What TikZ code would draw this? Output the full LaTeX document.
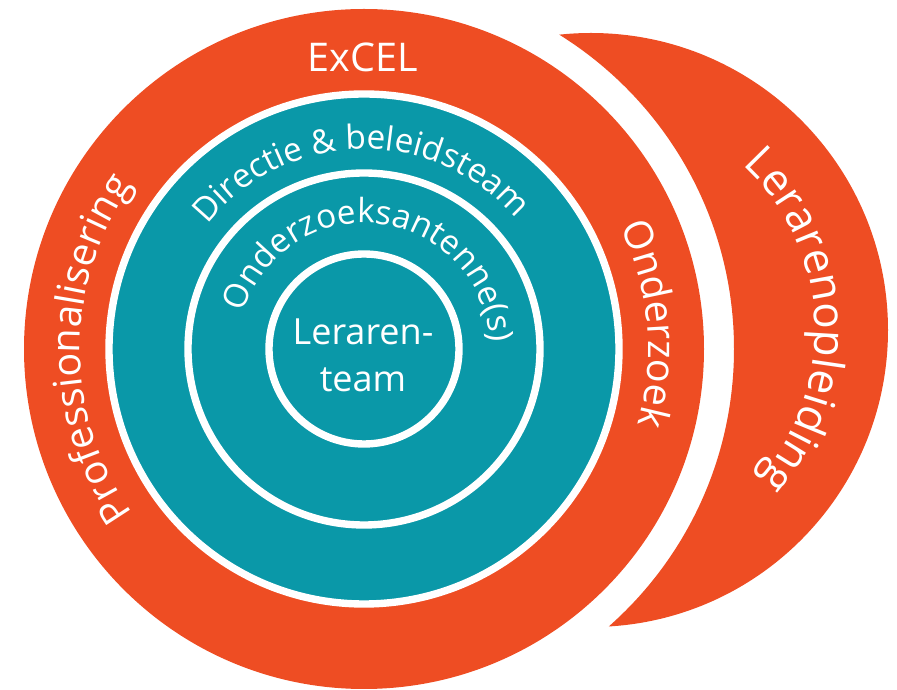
\documentclass[tikz,border=0pt]{standalone}
\usepackage{fontspec}
\setmainfont{Open Sans}
\usetikzlibrary{calc,decorations.text}

\definecolor{exorange}{HTML}{EE4D23}
\definecolor{exteal}{HTML}{0A98A8}

\newcommand{\ringfont}{\fontsize{22.5}{27}\selectfont}
\newcommand{\bigringfont}{\fontsize{25}{30}\selectfont}
\newcommand{\tealfont}{\fontsize{19}{23}\selectfont}
\newcommand{\corefont}{\fontsize{20.5}{25}\selectfont}

\begin{document}
\begin{tikzpicture}[x=0.02cm,y=0.02cm,
    ring/.style={draw=white,line width=4.2pt},
    bandtext/.style={decorate,decoration={text along path,text align=center,text color=white,text={#1}}}]
  \useasboundingbox (0,0) rectangle (897,690);
  \coordinate (M) at (364,341);
  \coordinate (C) at (591,360);
  % crescent
  \begin{scope}
    \clip (C) circle (297);
    \fill[exorange,even odd rule] (0,0) rectangle (897,690) (M) circle (370);
  \end{scope}
  % rings
  \fill[exorange] (M) circle (340);
  \fill[exteal] (M) circle (255);
  \foreach \r in {255,176,95}
    \draw[ring] (M) circle (\r);
  % labels
  \node[text=white,font=\ringfont,anchor=base] (excel) at (363,618) {ExCEL};
  \path[bandtext={|\ringfont|Professionalisering}]
    ($(M)+(230:284)$) arc[start angle=230,end angle=130,radius=284];
  \path[bandtext={|\ringfont|Onderzoek}]
    ($(M)+(45:284)$) arc[start angle=45,end angle=-35,radius=284];
  \path[bandtext={|\bigringfont|Lerarenopleiding}]
    ($(C)+(70:224)$) arc[start angle=70,end angle=-64,radius=224];
  \path[bandtext={|\tealfont|Directie {\&} beleidsteam}]
    ($(M)+(181:200)$) arc[start angle=181,end angle=1,radius=200];
  \path[bandtext={|\tealfont|Onderzoeksantenne(s)}]
    ($(M)+(175:126)$) arc[start angle=175,end angle=-9,radius=126];
  \node[text=white,font=\corefont,anchor=base] (leraren) at (363,345) {Leraren-};
  \node[text=white,font=\corefont,anchor=base] (team) at (363,298) {team};
\end{tikzpicture}
\end{document}
